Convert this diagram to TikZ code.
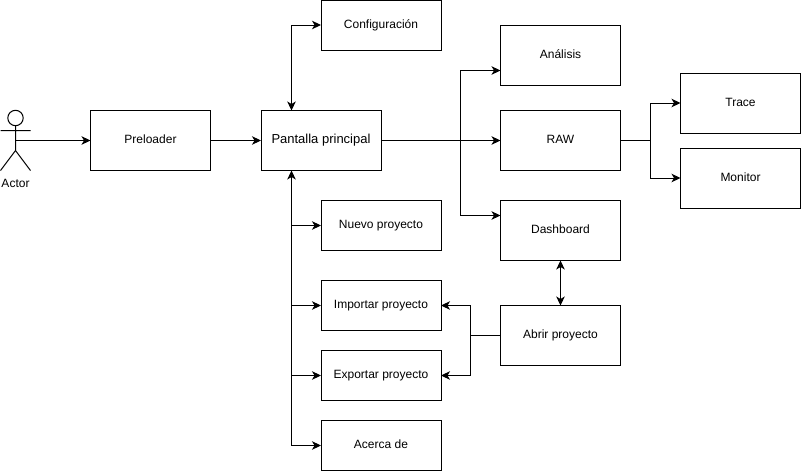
\documentclass[tikz,border=0pt]{standalone}
\usepackage{fontspec}
\setmainfont{Liberation Sans}
\usetikzlibrary{arrows.meta}
\tikzset{
  x=1pt,y=-1pt,
  flowbox/.style={draw=black,line width=1pt,fill=white,minimum width=120pt,inner sep=0pt,outer sep=0pt,text height=9pt,text depth=3pt,font=\fontsize{12}{14}\selectfont},
  wire/.style={draw=black,line width=1pt},
  headtip/.tip={Stealth[length=9pt,width=8.5pt,inset=2.5pt]},
  tip/.style={wire,-headtip},
  bothtip/.style={wire,headtip-headtip},
  actorline/.style={draw=black,line width=1pt}
}
\begin{document}
\begin{tikzpicture}
\useasboundingbox (0,0) rectangle (801,471);
\fill[white] (0,0) rectangle (801,471);
% boxes
\node[flowbox,minimum height=60pt] (pre) at (150.5,140.5) {Preloader};
\node[flowbox,minimum height=60pt] (pan) at (321,140.5) {\fontsize{13}{15}\selectfont Pantalla principal};
\node[flowbox,minimum height=50pt] (con) at (381,25) {Configuración};
\node[flowbox,minimum height=60pt] (ana) at (560.5,55.5) {Análisis};
\node[flowbox,minimum height=60pt] (raw) at (560.5,140.5) {RAW};
\node[flowbox,minimum height=60pt] (tra) at (740.5,103) {Trace};
\node[flowbox,minimum height=60pt] (mon) at (740.5,178) {Monitor};
\node[flowbox,minimum height=60pt] (das) at (560.5,230.5) {Dashboard};
\node[flowbox,minimum height=60pt] (abr) at (560.5,335.5) {Abrir proyecto};
\node[flowbox,minimum height=50pt] (nue) at (381,225.5) {Nuevo proyecto};
\node[flowbox,minimum height=50pt] (imp) at (381,305.5) {Importar proyecto};
\node[flowbox,minimum height=50pt] (exp) at (381,375.5) {Exportar proyecto};
\node[flowbox,minimum height=50pt] (ace) at (381,445.5) {Acerca de};
% actor
\coordinate (act) at (15.5,140.5);
\draw[actorline] (15.5,118) circle (7.7);
\draw[actorline] (15.5,125.7) -- (15.5,150.5) (0.5,130.5) -- (30.5,130.5)
  (0.5,170.5) -- (15.5,150.5) -- (30.5,170.5);
\node[inner sep=0pt,font=\fontsize{12}{14}\selectfont] (actlabel) at (15.5,183) {Actor};
% junction points
\coordinate (hub) at (460.5,140.5);
\coordinate (anain) at (500.5,70.5);
\coordinate (dasin) at (500.5,215.5);
\coordinate (bus) at (291.5,140.5);
\coordinate (trunk) at (650.5,140.5);
\coordinate (split) at (470.5,335.5);
% connectors
\draw[tip] (act) -- (pre.west);
\draw[tip] (pre.east) -- (pan.west);
\draw[tip] (pan.east) -- (raw.west);
\draw[tip] (hub) |- (anain);
\draw[tip] (hub) |- (dasin);
\draw[bothtip] (bus |- pan.north) |- (con.west);
\draw[tip] (bus |- ace.west) -- (bus |- pan.south);
\draw[tip] (bus |- ace.west) -- (ace.west);
\draw[tip] (bus |- exp.west) -- (exp.west);
\draw[tip] (bus |- imp.west) -- (imp.west);
\draw[tip] (bus |- nue.west) -- (nue.west);
\draw[wire] (raw.east) -- (trunk);
\draw[tip] (trunk) |- (tra.west);
\draw[tip] (trunk) |- (mon.west);
\draw[wire] (abr.west) -- (split);
\draw[tip] (split) |- (imp.east);
\draw[tip] (split) |- (exp.east);
\draw[bothtip] (das.south) -- (abr.north);
\end{tikzpicture}
\end{document}
